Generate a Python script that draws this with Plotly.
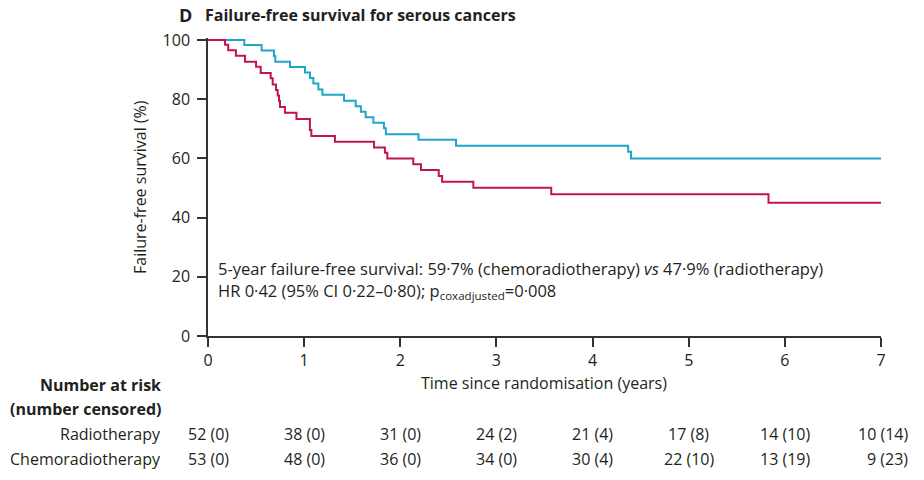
import plotly.graph_objects as go

# ---------------- data ----------------
chemo_time = [0, 0.378, 0.558, 0.686, 0.70, 0.853, 1.009, 1.061, 1.096, 1.148, 1.19,
              1.415, 1.536, 1.59, 1.64, 1.72, 1.83, 1.85, 2.19, 2.58, 4.37, 4.40, 7.0]
chemo_surv = [100, 98.3, 96.5, 94.6, 92.7, 90.9, 89.0, 87.2, 85.3, 83.3, 81.5,
              79.5, 77.6, 75.8, 73.9, 72.1, 70.2, 68.2, 66.3, 64.3, 62.3, 60.0, 60.0]

radio_time = [0, 0.177, 0.21, 0.29, 0.385, 0.50, 0.548, 0.652, 0.673, 0.707, 0.725,
              0.739, 0.749, 0.80, 0.92, 1.06, 1.075, 1.32, 1.727, 1.84, 1.865, 2.135,
              2.215, 2.40, 2.435, 2.76, 3.57, 5.83, 7.0]
radio_surv = [100, 98.4, 96.6, 94.7, 92.7, 91.0, 88.9, 87.1, 85.0, 83.1, 81.3,
              79.4, 77.4, 75.4, 73.3, 69.6, 67.6, 65.6, 63.7, 61.9, 60.0, 58.0,
              56.1, 54.1, 52.1, 50.1, 47.9, 45.0, 45.0]

risk_times = [0, 1, 2, 3, 4, 5, 6, 7]
radio_risk = ["52 (0)", "38 (0)", "31 (0)", "24 (2)", "21 (4)", "17 (8)", "14 (10)", "10 (14)"]
chemo_risk = ["53 (0)", "48 (0)", "36 (0)", "34 (0)", "30 (4)", "22 (10)", "13 (19)", "9 (23)"]

y_ticks = [0, 20, 40, 60, 80, 100]
x_ticks = [0, 1, 2, 3, 4, 5, 6, 7]

BLUE = "#1ea5cb"
RED = "#c1154b"
TXT = "#231f20"
AX = "#333333"
FONT = "Open Sans"
FS = 16

# ---------------- layout geometry ----------------
W, H = 924, 480
L, R, T, B = 208, 43, 38, 144
PW, PH = W - L - R, H - T - B


def px(x):
    return (x - L) / PW


def py(y):
    return (H - B - y) / PH


fig = go.Figure()
fig.add_trace(go.Scatter(x=chemo_time, y=chemo_surv, mode="lines", line_shape="hv",
                         line=dict(color=BLUE, width=2), name="Chemoradiotherapy",
                         showlegend=False, hoverinfo="skip"))
fig.add_trace(go.Scatter(x=radio_time, y=radio_surv, mode="lines", line_shape="hv",
                         line=dict(color=RED, width=2), name="Radiotherapy",
                         showlegend=False, hoverinfo="skip"))

ann = []
# title
ann.append(dict(text="<b>D</b>", xref="paper", yref="paper", x=px(194), y=py(15),
                xanchor="right", yanchor="middle", showarrow=False,
                font=dict(family=FONT, size=18, color=TXT)))
ann.append(dict(text="<b>Failure-free survival for serous cancers</b>", xref="paper",
                yref="paper", x=px(203), y=py(15), xanchor="left", yanchor="middle",
                showarrow=False, font=dict(family=FONT, size=FS, color=TXT)))
# stats text
ann.append(dict(text="5-year failure-free survival: 59·7% (chemoradiotherapy) <i>vs</i> 47·9% (radiotherapy)",
                xref="paper", yref="paper", x=px(216), y=py(268), xanchor="left",
                yanchor="middle", showarrow=False, font=dict(family=FONT, size=16.5, color=TXT)))
ann.append(dict(text="HR 0·42 (95% CI 0·22–0·80); p<sub>coxadjusted</sub>=0·008",
                xref="paper", yref="paper", x=px(216), y=py(291), xanchor="left",
                yanchor="middle", showarrow=False, font=dict(family=FONT, size=16.5, color=TXT)))
# axis titles
ann.append(dict(text="Failure-free survival (%)", xref="paper", yref="paper",
                x=px(140), y=py(187), textangle=-90, xanchor="center", yanchor="middle",
                showarrow=False, font=dict(family=FONT, size=FS, color=TXT)))
ann.append(dict(text="Time since randomisation (years)", xref="paper", yref="paper",
                x=px(544), y=py(383), xanchor="center", yanchor="middle",
                showarrow=False, font=dict(family=FONT, size=FS, color=TXT)))
# risk table labels
for txt, yy in [("<b>Number at risk</b>", 385), ("<b>(number censored)</b>", 409),
                ("Radiotherapy", 434), ("Chemoradiotherapy", 459)]:
    ann.append(dict(text=txt, xref="paper", yref="paper", x=px(163), y=py(yy),
                    xanchor="right", yanchor="middle", showarrow=False,
                    font=dict(family=FONT, size=FS, color=TXT)))
for row, yy in [(radio_risk, 434), (chemo_risk, 459)]:
    for t, s in zip(risk_times, row):
        last = t == risk_times[-1]
        ann.append(dict(text=s, xref="x", yref="paper", x=t, y=py(yy),
                        xanchor="right" if last else "center",
                        xshift=29 if last else 0, yanchor="middle", showarrow=False,
                        font=dict(family=FONT, size=FS, color=TXT)))

fig.update_layout(
    width=W, height=H,
    margin=dict(l=L, r=R, t=T, b=B),
    paper_bgcolor="white", plot_bgcolor="white",
    font=dict(family=FONT, size=FS, color=TXT),
    annotations=ann,
    xaxis=dict(range=[0, 7], tickvals=x_ticks, showgrid=False, zeroline=False,
               showline=True, linecolor=AX, linewidth=1.5, ticks="outside",
               ticklen=9, tickwidth=1.5, tickcolor=AX,
               tickfont=dict(family=FONT, size=FS, color=TXT)),
    yaxis=dict(range=[0, 100.7], tickvals=y_ticks, showgrid=False, zeroline=False,
               showline=True, linecolor=AX, linewidth=1.5, ticks="outside",
               ticklen=9, tickwidth=1.5, tickcolor=AX, ticklabelstandoff=4,
               tickfont=dict(family=FONT, size=FS, color=TXT)),
)

fig.write_html("out.html", config={"displayModeBar": False},
               post_script="document.body.style.margin='0';document.body.style.padding='0';")
